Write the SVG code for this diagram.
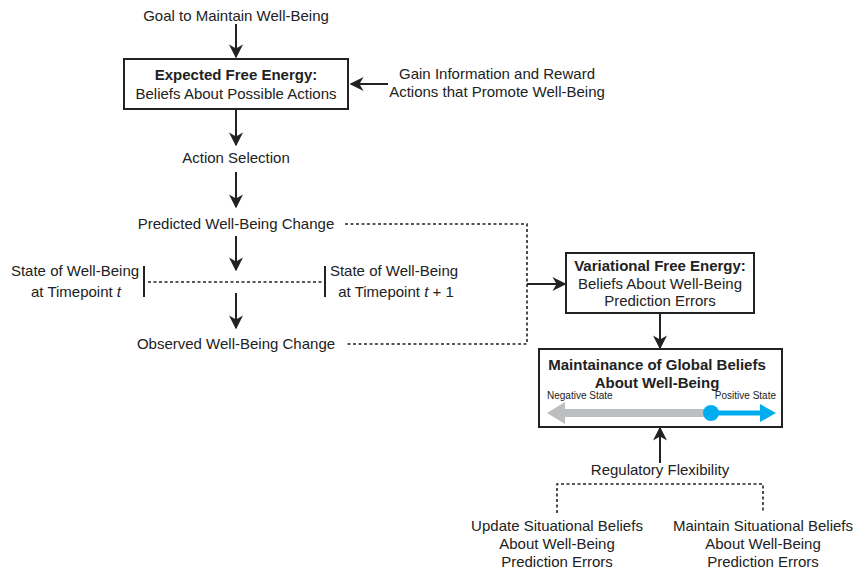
<svg xmlns="http://www.w3.org/2000/svg" width="864" height="572" viewBox="0 0 864 572">
<defs>
<style>
text{font-family:"Liberation Sans",Arial,sans-serif;font-size:15px;fill:#222;}
.b{font-weight:bold;}
.c{text-anchor:middle;}
.s{font-size:10px;}
.box{fill:#fff;stroke:#222;stroke-width:2;}
.ln{stroke:#222;stroke-width:2;fill:none;}
.dot{stroke:#222;stroke-width:1.6;fill:none;stroke-dasharray:3 2.5;}
</style>
<marker id="ah2" viewBox="0 0 10 10" refX="9" refY="5" markerWidth="14" markerHeight="14" markerUnits="userSpaceOnUse" orient="auto">
<path d="M0,0 L10,5 L0,10 L3,5 Z" fill="#222"/>
</marker>
</defs>
<rect width="864" height="572" fill="#fff"/>

<g id="connectors">
<line class="ln" x1="236" y1="24" x2="236" y2="57" marker-end="url(#ah2)"/>
<line class="ln" x1="388" y1="84" x2="351" y2="84" marker-end="url(#ah2)"/>
<line class="ln" x1="236" y1="110" x2="236" y2="145" marker-end="url(#ah2)"/>
<line class="ln" x1="236" y1="172" x2="236" y2="207" marker-end="url(#ah2)"/>
<line class="ln" x1="236" y1="236" x2="236" y2="270" marker-end="url(#ah2)"/>
<line class="ln" x1="236" y1="293" x2="236" y2="328" marker-end="url(#ah2)"/>
<path class="dot" d="M345,224 H527 V344 H345"/>
<line class="ln" x1="527" y1="284" x2="565" y2="284" marker-end="url(#ah2)"/>
<line class="ln" x1="660" y1="313" x2="660" y2="348" marker-end="url(#ah2)"/>
<line class="ln" x1="660" y1="463" x2="660" y2="428" marker-end="url(#ah2)"/>
<path class="dot" d="M557,513 V484 H763 V513"/>
<line class="dot" x1="148" y1="282" x2="322" y2="282"/>
<line class="ln" x1="144" y1="266" x2="144" y2="297"/>
<line class="ln" x1="325" y1="266" x2="325" y2="297"/>
</g>

<g id="goal"><text class="c" x="236" y="21">Goal to Maintain Well-Being</text></g>

<g id="efe">
<rect class="box" x="124" y="59" width="224" height="50"/>
<text class="c b" x="236" y="80">Expected Free Energy:</text>
<text class="c" x="236" y="99">Beliefs About Possible Actions</text>
</g>

<g id="gain">
<text class="c" x="497" y="79">Gain Information and Reward</text>
<text class="c" x="497" y="97">Actions that Promote Well-Being</text>
</g>

<g id="action"><text class="c" x="236" y="163">Action Selection</text></g>
<g id="predicted"><text class="c" x="236" y="229">Predicted Well-Being Change</text></g>

<g id="state-t">
<text class="c" x="75" y="276">State of Well-Being</text>
<text class="c" x="76" y="297">at Timepoint <tspan font-style="italic">t</tspan></text>
</g>

<g id="state-t1">
<text class="c" x="394" y="276">State of Well-Being</text>
<text class="c" x="396" y="297">at Timepoint <tspan font-style="italic">t</tspan> + 1</text>
</g>

<g id="observed"><text class="c" x="236" y="349">Observed Well-Being Change</text></g>

<g id="vfe">
<rect class="box" x="566" y="253" width="188" height="60"/>
<text class="c b" x="660" y="271">Variational Free Energy:</text>
<text class="c" x="660" y="289">Beliefs About Well-Being</text>
<text class="c" x="660" y="306">Prediction Errors</text>
</g>

<g id="global">
<rect class="box" x="539" y="349" width="243" height="78"/>
<text class="c b" x="657" y="370">Maintainance of Global Beliefs</text>
<text class="c b" x="657" y="388">About Well-Being</text>
<text class="s" x="547" y="399">Negative State</text>
<text class="s" x="776" y="399" text-anchor="end">Positive State</text>
<line x1="560" y1="413" x2="712" y2="413" stroke="#bcbec0" stroke-width="8"/>
<path d="M547,413 L565,402 L565,424 Z" fill="#bcbec0"/>
<line x1="712" y1="413" x2="762" y2="413" stroke="#00aeef" stroke-width="5"/>
<path d="M776,413 L760,404 L760,422 Z" fill="#00aeef"/>
<circle cx="711" cy="413" r="8" fill="#00aeef"/>
</g>

<g id="flex"><text class="c" x="660" y="475">Regulatory Flexibility</text></g>

<g id="update">
<text class="c" x="557" y="531">Update Situational Beliefs</text>
<text class="c" x="557" y="549">About Well-Being</text>
<text class="c" x="557" y="567">Prediction Errors</text>
</g>

<g id="maintain">
<text class="c" x="763" y="531">Maintain Situational Beliefs</text>
<text class="c" x="763" y="549">About Well-Being</text>
<text class="c" x="763" y="567">Prediction Errors</text>
</g>
</svg>
